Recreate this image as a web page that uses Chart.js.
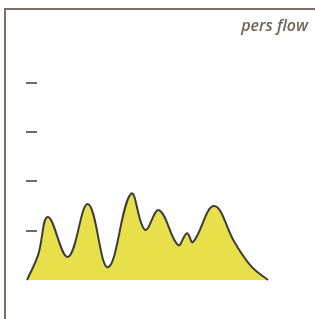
<!DOCTYPE html>
<html>
<head>
<meta charset="utf-8">
<script src="https://cdn.jsdelivr.net/npm/chart.js@4"></script>
<style>
  html, body { margin: 0; padding: 0; background: #ffffff; }
  #wrap { position: relative; width: 315px; height: 319px; overflow: hidden; }
  #frame { position: absolute; left: 4px; top: 8px; width: 311px; height: 311px;
           border-left: 2px solid #7b7064; border-top: 2px solid #7b7064; box-sizing: border-box; }
  #c { position: absolute; left: 0; top: 0; }
</style>
</head>
<body>
<div id="wrap">
  <div id="frame"></div>
  <canvas id="c" width="315" height="319"></canvas>
</div>
<script>
// Data
const titleText = "pers flow";
const xValues = [0, 5.5, 10.5, 20.5, 30.5, 40.5, 52, 59, 66, 75.5, 80, 83, 93.5, 104, 112.5, 120.5];
const flowValues = [0, 0.5, 1.28, 0.47, 1.54, 0.26, 1.75, 1.02, 1.42, 0.71, 0.95, 0.77, 1.50, 0.75, 0.26, 0];
const tickValues = [1, 2, 3, 4];

const points = xValues.map((x, i) => ({ x: x, y: flowValues[i] }));

const tickMarks = {
  id: 'tickMarks',
  afterDatasetsDraw(chart) {
    const ctx = chart.ctx;
    const ys = chart.scales.y;
    const left = chart.chartArea.left;
    ctx.save();
    ctx.strokeStyle = '#6a6a6a';
    ctx.lineWidth = 2;
    tickValues.forEach(v => {
      const py = Math.round(ys.getPixelForValue(v));
      ctx.beginPath();
      ctx.moveTo(left - 1, py);
      ctx.lineTo(left + 10, py);
      ctx.stroke();
    });
    ctx.restore();
  }
};

new Chart(document.getElementById('c'), {
  type: 'line',
  data: {
    datasets: [{
      data: points,
      borderColor: '#3c3c3c',
      borderWidth: 2,
      backgroundColor: '#e8e04a',
      fill: 'origin',
      pointRadius: 0,
      tension: 0.4,
      clip: 4
    }]
  },
  options: {
    responsive: false,
    animation: false,
    layout: { padding: { left: 27, right: 7, top: 0, bottom: 39 } },
    scales: {
      x: { type: 'linear', min: 0, max: 140.5, display: false },
      y: { type: 'linear', min: 0, max: 4.95, display: false }
    },
    plugins: {
      legend: { display: false },
      tooltip: { enabled: false },
      title: {
        display: true,
        text: titleText,
        align: 'end',
        color: '#6e6559',
        font: { family: 'Open Sans', size: 16, style: 'italic', weight: '600', lineHeight: 1.2 },
        padding: { top: 17, bottom: 0 }
      }
    }
  },
  plugins: [tickMarks]
});
</script>
</body>
</html>
